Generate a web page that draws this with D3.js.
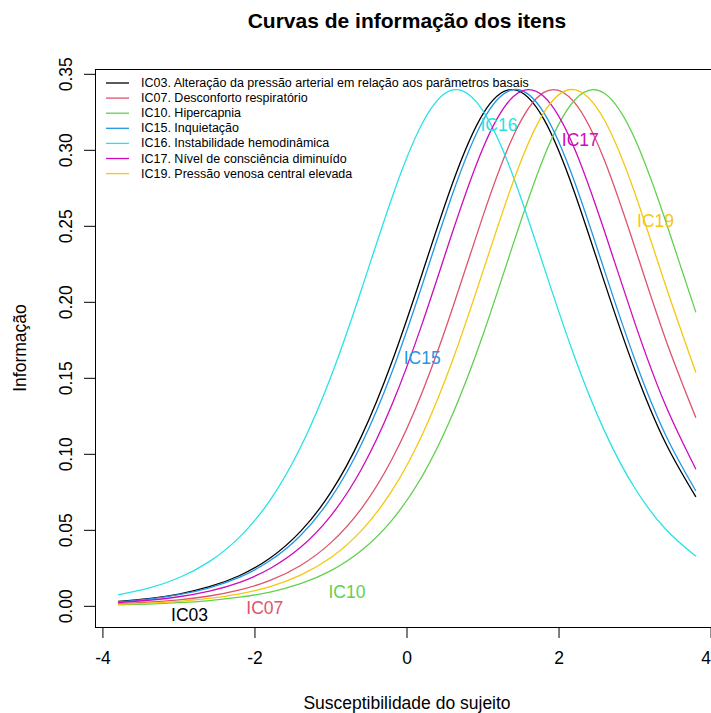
<!DOCTYPE html>
<html>
<head>
<meta charset="utf-8">
<script src="https://cdn.jsdelivr.net/npm/d3@7"></script>
<style>
  body { margin: 0; background: #fff; }
  svg { display: block; font-family: "Liberation Sans", Arial, Helvetica, sans-serif; }
</style>
</head>
<body>
<svg id="chart" width="711" height="713"></svg>
<script>
// theta grid (Susceptibilidade do sujeito)
var thetas = [-3.8, -3.4, -3.0, -2.6, -2.2, -1.8, -1.4, -1.0, -0.6, -0.2,
              0.2, 0.6, 1.0, 1.4, 1.8, 2.2, 2.6, 3.0, 3.4, 3.8];

// informacao de cada item
var ic03 = [0.0032, 0.0051, 0.0081, 0.0129, 0.0203, 0.0318, 0.0493, 0.0751, 0.1118, 0.1606,
            0.2190, 0.2785, 0.3240, 0.3399, 0.3205, 0.2728, 0.2128, 0.1552, 0.1076, 0.0720];
var ic07 = [0.0017, 0.0027, 0.0043, 0.0068, 0.0108, 0.0171, 0.0269, 0.0419, 0.0643, 0.0966,
            0.1409, 0.1963, 0.2569, 0.3096, 0.3381, 0.3317, 0.2931, 0.2357, 0.1759, 0.1241];
var ic10 = [0.0009, 0.0015, 0.0024, 0.0038, 0.0060, 0.0094, 0.0149, 0.0235, 0.0367, 0.0566,
            0.0857, 0.1264, 0.1787, 0.2388, 0.2955, 0.3328, 0.3374, 0.3073, 0.2538, 0.1934];
var ic15 = [0.0030, 0.0048, 0.0077, 0.0122, 0.0192, 0.0301, 0.0466, 0.0713, 0.1066, 0.1538,
            0.2114, 0.2714, 0.3196, 0.3399, 0.3248, 0.2798, 0.2205, 0.1619, 0.1129, 0.0759];
var ic16 = [0.0075, 0.0119, 0.0188, 0.0294, 0.0457, 0.0699, 0.1046, 0.1512, 0.2083, 0.2685,
            0.3176, 0.3397, 0.3260, 0.2825, 0.2235, 0.1647, 0.1151, 0.0775, 0.0509, 0.0329];
var ic17 = [0.0025, 0.0040, 0.0063, 0.0100, 0.0158, 0.0249, 0.0388, 0.0597, 0.0902, 0.1324,
            0.1860, 0.2464, 0.3016, 0.3354, 0.3354, 0.3016, 0.2464, 0.1860, 0.1324, 0.0902];
var ic19 = [0.0013, 0.0021, 0.0033, 0.0052, 0.0082, 0.0130, 0.0205, 0.0321, 0.0498, 0.0759,
            0.1129, 0.1619, 0.2205, 0.2798, 0.3248, 0.3399, 0.3196, 0.2714, 0.2114, 0.1538];

var itemCodes = ["IC03", "IC07", "IC10", "IC15", "IC16", "IC17", "IC19"];
var legendLabels = [
  "IC03. Alteração da pressão arterial em relação aos parâmetros basais",
  "IC07. Desconforto respiratório",
  "IC10. Hipercapnia",
  "IC15. Inquietação",
  "IC16. Instabilidade hemodinâmica",
  "IC17. Nível de consciência diminuído",
  "IC19. Pressão venosa central elevada"
];
var colors = ["#000000", "#DF536B", "#61D04F", "#2297E6", "#28E2E5", "#CD0BBC", "#F5C710"];

// posicao dos rotulos sobre as curvas (theta, informacao)
var labelTheta = [-2.86, -1.87, -0.79, 0.20, 1.21, 2.28, 3.27];
var labelInfo = [-0.0059, -0.0009, 0.0092, 0.1634, 0.3169, 0.3070, 0.2536];

var xTicks = [-4, -2, 0, 2, 4];
var yTicks = [0, 0.05, 0.10, 0.15, 0.20, 0.25, 0.30, 0.35];

var series = [ic03, ic07, ic10, ic15, ic16, ic17, ic19];

var svg = d3.select("#chart");
// area do grafico (a borda direita fica fora da janela, como na figura)
var plotLeft = 95, plotRight = 719, plotTop = 69, plotBottom = 627;

// limites com 4% de folga como no R
var xMin = d3.min(thetas), xMax = d3.max(thetas);
var xPad = (xMax - xMin) * 0.04;
var yMax = d3.max(series, function (s) { return d3.max(s); });
var yPad = yMax * 0.04;

var x = d3.scaleLinear().domain([xMin - xPad, xMax + xPad]).range([plotLeft, plotRight]);
var y = d3.scaleLinear().domain([0 - yPad, yMax + yPad]).range([plotBottom, plotTop]);

// moldura
svg.append("rect")
  .attr("x", plotLeft + 0.5).attr("y", plotTop + 0.5)
  .attr("width", plotRight - plotLeft).attr("height", plotBottom - plotTop)
  .attr("fill", "none").attr("stroke", "#000").attr("stroke-width", 1);

// curvas
var line = d3.line()
  .x(function (d) { return x(d[0]); })
  .y(function (d) { return y(d[1]); })
  .curve(d3.curveNatural);

series.forEach(function (s, i) {
  svg.append("path")
    .datum(thetas.map(function (t, k) { return [t, s[k]]; }))
    .attr("fill", "none")
    .attr("stroke", colors[i])
    .attr("stroke-width", 1.3)
    .attr("d", line);
});

// eixo x
var xAxis = svg.append("g");
xAxis.append("line")
  .attr("x1", x(-4)).attr("x2", x(4))
  .attr("y1", plotBottom + 11.5).attr("y2", plotBottom + 11.5)
  .attr("stroke", "#000").attr("stroke-width", 0);
xTicks.forEach(function (v) {
  xAxis.append("line")
    .attr("x1", x(v)).attr("x2", x(v))
    .attr("y1", plotBottom).attr("y2", plotBottom + 11)
    .attr("stroke", "#000");
  xAxis.append("text")
    .attr("x", x(v)).attr("y", 664)
    .attr("text-anchor", v === 4 ? "end" : "middle")
    .attr("font-size", "17.5px")
    .text(v);
});

// eixo y
var yAxis = svg.append("g");
yTicks.forEach(function (v) {
  yAxis.append("line")
    .attr("x1", plotLeft - 11).attr("x2", plotLeft)
    .attr("y1", y(v)).attr("y2", y(v))
    .attr("stroke", "#000");
  yAxis.append("text")
    .attr("transform", "translate(72," + y(v) + ") rotate(-90)")
    .attr("text-anchor", "middle")
    .attr("font-size", "17.5px")
    .text(d3.format(".2f")(v));
});

// titulos
svg.append("text")
  .attr("x", (plotLeft + plotRight) / 2).attr("y", 28)
  .attr("text-anchor", "middle")
  .attr("font-size", "21px")
  .attr("font-weight", "bold")
  .text("Curvas de informação dos itens");

svg.append("text")
  .attr("x", (plotLeft + plotRight) / 2).attr("y", 709)
  .attr("text-anchor", "middle")
  .attr("font-size", "17.5px")
  .text("Susceptibilidade do sujeito");

svg.append("text")
  .attr("transform", "translate(26," + (plotTop + plotBottom) / 2 + ") rotate(-90)")
  .attr("text-anchor", "middle")
  .attr("font-size", "17.5px")
  .text("Informação");

// rotulos nas curvas
itemCodes.forEach(function (c, i) {
  svg.append("text")
    .attr("x", x(labelTheta[i])).attr("y", y(labelInfo[i]))
    .attr("text-anchor", "middle")
    .attr("dominant-baseline", "central")
    .attr("font-size", "17.5px")
    .attr("fill", colors[i])
    .text(c);
});

// legenda (sem caixa)
var legend = svg.append("g");
legendLabels.forEach(function (lab, i) {
  var ly = 83 + i * 15.1;
  legend.append("line")
    .attr("x1", 106).attr("x2", 129)
    .attr("y1", ly).attr("y2", ly)
    .attr("stroke", colors[i]).attr("stroke-width", 1.3);
  legend.append("text")
    .attr("x", 141).attr("y", ly)
    .attr("dominant-baseline", "central")
    .attr("font-size", "12.5px")
    .text(lab);
});
</script>
</body>
</html>
